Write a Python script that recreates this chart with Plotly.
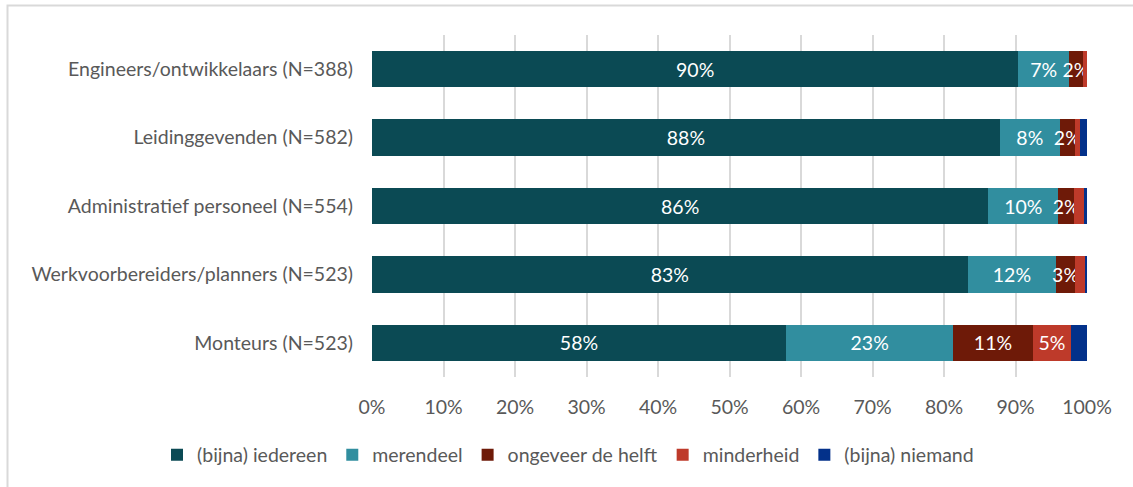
import plotly.graph_objects as go

categories = [
    "Engineers/ontwikkelaars (N=388)",
    "Leidinggevenden (N=582)",
    "Administratief personeel (N=554)",
    "Werkvoorbereiders/planners (N=523)",
    "Monteurs (N=523)",
]
series_names = ["(bijna) iedereen", "merendeel", "ongeveer de helft", "minderheid", "(bijna) niemand"]
iedereen = [90.4, 87.8, 86.2, 83.3, 57.9]
merendeel = [7.1, 8.4, 9.8, 12.4, 23.4]
helft = [1.9, 2.1, 2.2, 2.6, 11.1]
minderheid = [0.6, 0.7, 1.4, 1.5, 5.4]
niemand = [0.0, 1.0, 0.4, 0.2, 2.2]
series_values = [iedereen, merendeel, helft, minderheid, niemand]
show_labels = [True, True, True, True, False]
colors = ["#0B4A54", "#318E9F", "#6E1A08", "#BE3A2A", "#03318A"]
x_ticks = [0, 10, 20, 30, 40, 50, 60, 70, 80, 90, 100]

FONT = "Lato, Carlito, Calibri, sans-serif"
FS = 19.5

fig = go.Figure()
for name, vals, col, lab in zip(series_names, series_values, colors, show_labels):
    texts = [f"{round(v)}%" if (lab and v >= 1.8) else "" for v in vals]
    fig.add_trace(go.Bar(
        y=categories, x=vals, name=name, orientation="h",
        marker=dict(color=col, line=dict(width=0)),
        text=texts, textposition="inside", insidetextanchor="middle",
        textangle=0, constraintext="none",
        textfont=dict(color="white", size=FS, family=FONT),
        hoverinfo="skip",
    ))

L, R, T, B = 372, 1087, 35, 377
W, H = 1133, 487

def px_x(x):
    return (x - L) / (R - L)

def px_y(y):
    return (B - y) / (B - T)

fig.update_layout(
    width=W, height=H,
    barmode="stack", bargap=0.47,
    margin=dict(l=L, r=W - R, t=T, b=H - B, pad=0, autoexpand=False),
    paper_bgcolor="white", plot_bgcolor="white",
    font=dict(family=FONT, size=FS, color="#595959"),
    xaxis=dict(range=[0, 100], tickvals=x_ticks, ticktext=[f"{v}%" for v in x_ticks],
               showgrid=True, gridcolor="#D9D9D9", gridwidth=1.5,
               zeroline=False, showline=False, ticks="", ticklabelstandoff=16,
               tickfont=dict(size=FS, color="#595959"), automargin=False),
    yaxis=dict(categoryorder="array", categoryarray=categories, autorange="reversed",
               showgrid=False, zeroline=False, showline=False, ticks="",
               ticklabelstandoff=18, automargin=False,
               tickfont=dict(size=FS, color="#595959")),
    legend=dict(orientation="h", x=px_x(157), xanchor="left", y=px_y(455), yanchor="middle",
                font=dict(size=FS, color="#595959"), traceorder="normal",
                itemwidth=30, tracegroupgap=0),
    showlegend=True,
    shapes=[dict(type="rect", xref="paper", yref="paper",
                 x0=px_x(7.5), x1=px_x(1160), y0=px_y(520), y1=px_y(5.5),
                 line=dict(color="#D9D9D9", width=2), fillcolor="rgba(0,0,0,0)", layer="below")],
)
fig.write_html("out.html")
